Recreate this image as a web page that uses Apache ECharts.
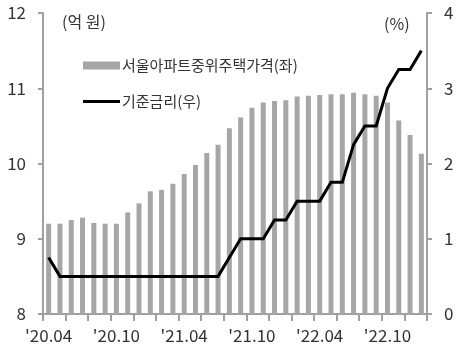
<!DOCTYPE html>
<html>
<head>
<meta charset="utf-8">
<script src="https://cdn.jsdelivr.net/npm/echarts@6/dist/echarts.min.js"></script>
<style>html,body{margin:0;padding:0;background:#fff}#c{width:464px;height:355px}</style>
</head>
<body>
<div id="c"></div>
<script>
var categories = ["'20.04","'20.05","'20.06","'20.07","'20.08","'20.09","'20.10","'20.11","'20.12",
"'21.01","'21.02","'21.03","'21.04","'21.05","'21.06","'21.07","'21.08","'21.09","'21.10","'21.11","'21.12",
"'22.01","'22.02","'22.03","'22.04","'22.05","'22.06","'22.07","'22.08","'22.09","'22.10","'22.11","'22.12","'23.01"];
var housePrice = [9.20, 9.20, 9.25, 9.28, 9.21, 9.20, 9.20, 9.35, 9.47, 9.63, 9.65, 9.73, 9.86, 9.98, 10.14, 10.25, 10.47,
10.61, 10.74, 10.81, 10.83, 10.84, 10.89, 10.90, 10.91, 10.92, 10.92, 10.94, 10.92, 10.90, 10.81, 10.57, 10.38, 10.13];
var baseRate = [0.75, 0.5, 0.5, 0.5, 0.5, 0.5, 0.5, 0.5, 0.5, 0.5, 0.5, 0.5, 0.5, 0.5, 0.5, 0.5, 0.75,
1.0, 1.0, 1.0, 1.25, 1.25, 1.5, 1.5, 1.5, 1.75, 1.75, 2.25, 2.5, 2.5, 3.0, 3.25, 3.25, 3.5];
var leftTicks = {min: 8, max: 12, interval: 1};
var rightTicks = {min: 0, max: 4, interval: 1};
var barName = '서울아파트중위주택가격(좌)';
var lineName = '기준금리(우)';

var FONT = '"Noto Sans CJK KR", "Noto Sans", sans-serif';
var axisColor = '#a0a0a0';
var textColor = '#333';
var chart = echarts.init(document.getElementById('c'), null, {renderer: 'canvas'});
chart.setOption({
  animation: false,
  textStyle: {fontFamily: FONT},
  grid: {left: 43, right: 37, top: 13, bottom: 41},
  legend: [
    {data: [{name: barName, icon: 'rect'}], left: 78, top: 53, itemWidth: 37, itemHeight: 8, itemGap: 0,
     textStyle: {fontSize: 15, color: textColor, fontFamily: FONT, padding: [0,0,0,-3]}},
    {data: [{name: lineName, icon: 'rect'}], left: 78, top: 89, itemWidth: 37, itemHeight: 3,
     itemStyle: {color: '#000'},
     textStyle: {fontSize: 15, color: textColor, fontFamily: FONT, padding: [0,0,0,-3]}}
  ],
  graphic: [
    {type: 'text', left: 62, top: 14, style: {text: '(억 원)', fontSize: 16, fill: textColor, fontFamily: FONT}},
    {type: 'text', left: 384, top: 16, style: {text: '(%)', fontSize: 16, fill: textColor, fontFamily: FONT}}
  ],
  xAxis: {
    type: 'category', data: categories, boundaryGap: true,
    axisLine: {onZero: false, lineStyle: {color: axisColor, width: 2}},
    axisTick: {show: true, interval: 1, alignWithLabel: false, length: 7, lineStyle: {color: axisColor, width: 2}},
    axisLabel: {interval: 5, margin: 13, fontSize: 17, color: textColor, fontFamily: FONT}
  },
  yAxis: [
    {type: 'value', min: leftTicks.min, max: leftTicks.max, interval: leftTicks.interval,
     splitLine: {show: false},
     axisLine: {show: true, lineStyle: {color: axisColor, width: 2}},
     axisTick: {show: true, length: 5, lineStyle: {color: axisColor, width: 2}},
     axisLabel: {margin: 17, fontSize: 17, color: textColor, fontFamily: FONT}},
    {type: 'value', min: rightTicks.min, max: rightTicks.max, interval: rightTicks.interval,
     position: 'right', splitLine: {show: false},
     axisLine: {show: true, lineStyle: {color: axisColor, width: 2}},
     axisTick: {show: true, length: 5, lineStyle: {color: axisColor, width: 2}},
     axisLabel: {margin: 17, fontSize: 17, color: textColor, fontFamily: FONT}}
  ],
  series: [
    {name: barName, type: 'bar', data: housePrice, yAxisIndex: 0, barWidth: 5,
     itemStyle: {color: '#a6a6a6'}},
    {name: lineName, type: 'line', data: baseRate, yAxisIndex: 1, symbol: 'none',
     lineStyle: {color: '#000', width: 3, join: 'miter'}, itemStyle: {color: '#000'}}
  ]
});
</script>
</body>
</html>
